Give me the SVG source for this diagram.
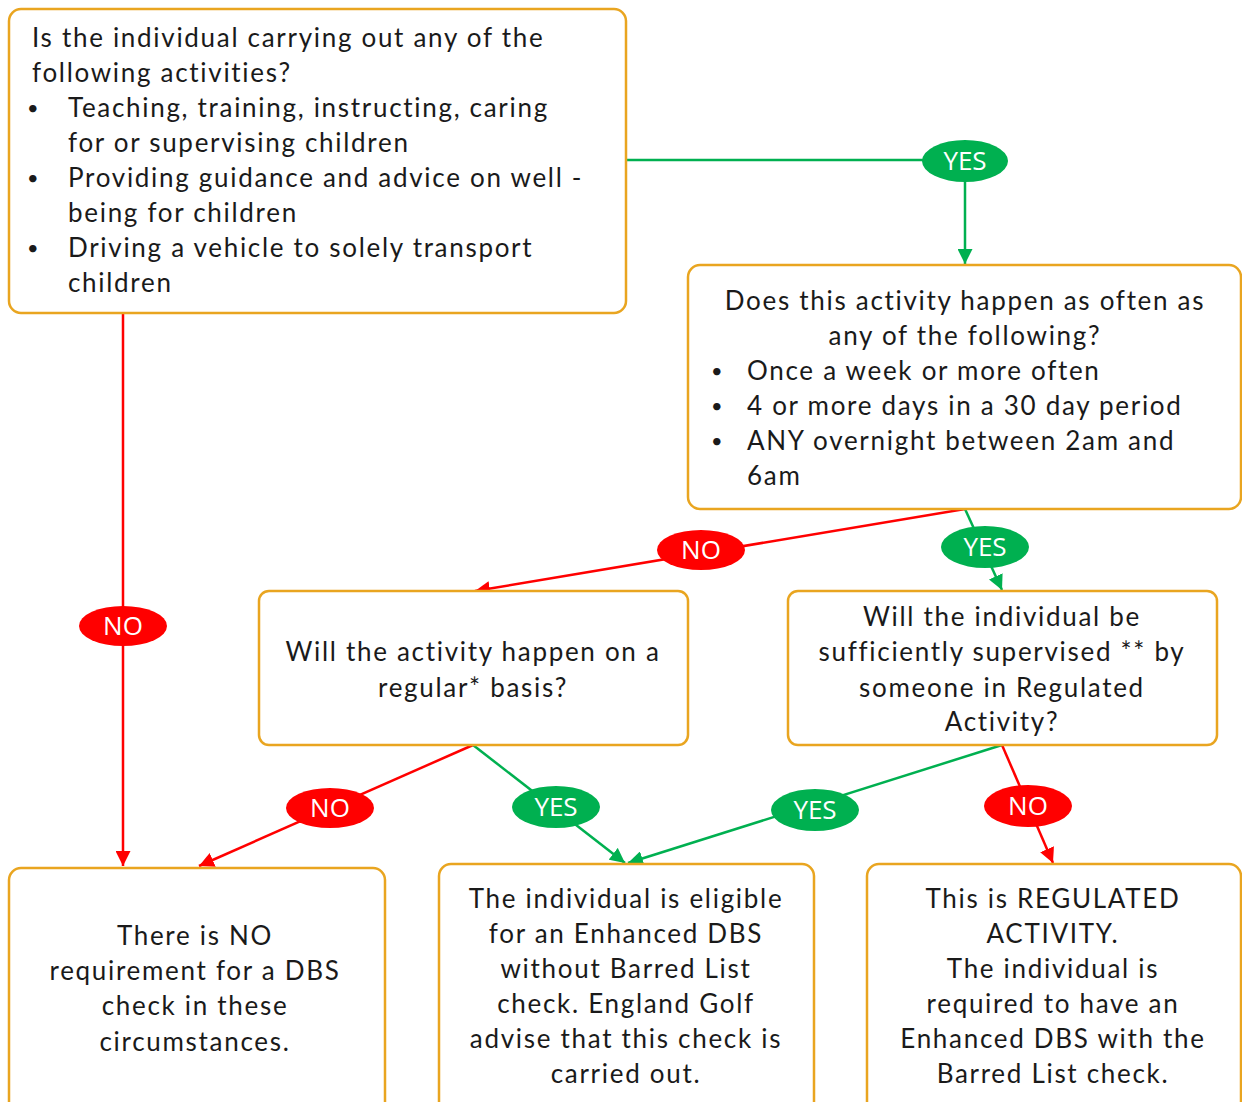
<svg xmlns="http://www.w3.org/2000/svg" width="1242" height="1102" viewBox="0 0 1242 1102">
<style>
.box{fill:#fff;stroke:#E9A520;stroke-width:2.5}
.t{font-family:Lato,"Open Sans",sans-serif;font-size:26px;fill:#1a1a1a;letter-spacing:1.7px}
.b{font-family:Lato,"Open Sans",sans-serif;font-size:20px;fill:#1a1a1a}
.c{text-anchor:middle}
.g{stroke:#00B050;stroke-width:2.5;fill:none}
.r{stroke:#FF0000;stroke-width:2.5;fill:none}
.lg{fill:#00B050}
.lr{fill:#FF0000}
.lt{font-family:"Open Sans","Liberation Sans",sans-serif;font-size:26px;fill:#fff;text-anchor:middle}
</style>
<defs>
<marker id="ag" viewBox="0 0 10 10" refX="10" refY="5" markerWidth="6" markerHeight="6" markerUnits="strokeWidth" orient="auto"><path d="M0,0L10,5L0,10z" fill="#00B050"/></marker>
<marker id="ar" viewBox="0 0 10 10" refX="10" refY="5" markerWidth="6" markerHeight="6" markerUnits="strokeWidth" orient="auto"><path d="M0,0L10,5L0,10z" fill="#FF0000"/></marker>
</defs>
<g id="connectors">
<path class="g" d="M626,160H965V264" marker-end="url(#ag)"/>
<path class="r" d="M123,313V866" marker-end="url(#ar)"/>
<path class="r" d="M965,509L475,591" marker-end="url(#ar)"/>
<path class="g" d="M965,509L1002,590" marker-end="url(#ag)"/>
<path class="r" d="M473,745L199,866" marker-end="url(#ar)"/>
<path class="g" d="M473,745L625,863" marker-end="url(#ag)"/>
<path class="g" d="M1002,745L628,863" marker-end="url(#ag)"/>
<path class="r" d="M1002,745L1053,863" marker-end="url(#ar)"/>
<g id="lbl-yes1"><ellipse class="lg" cx="965" cy="161" rx="43" ry="21"/><text class="lt" x="965" y="170">YES</text></g>
<g id="lbl-no1"><ellipse class="lr" cx="123" cy="626" rx="44" ry="20"/><text class="lt" x="123" y="635">NO</text></g>
<g id="lbl-no2"><ellipse class="lr" cx="701" cy="550" rx="44" ry="20"/><text class="lt" x="701" y="559">NO</text></g>
<g id="lbl-yes2"><ellipse class="lg" cx="985" cy="547" rx="44" ry="21"/><text class="lt" x="985" y="556">YES</text></g>
<g id="lbl-no3"><ellipse class="lr" cx="330" cy="808" rx="44" ry="20"/><text class="lt" x="330" y="817">NO</text></g>
<g id="lbl-yes3"><ellipse class="lg" cx="556" cy="807" rx="44" ry="21"/><text class="lt" x="556" y="816">YES</text></g>
<g id="lbl-yes4"><ellipse class="lg" cx="815" cy="810" rx="44" ry="21"/><text class="lt" x="815" y="819">YES</text></g>
<g id="lbl-no4"><ellipse class="lr" cx="1028" cy="806" rx="44" ry="21"/><text class="lt" x="1028" y="815">NO</text></g>
</g>
<g id="q1">
<rect class="box" x="9" y="9" width="617" height="304" rx="12"/>
<text class="t" x="32" y="47">Is the individual carrying out any of the</text>
<text class="t" x="32" y="82">following activities?</text>
<text class="b" x="27" y="115">•</text><text class="t" x="68" y="117">Teaching, training, instructing, caring</text>
<text class="t" x="68" y="152">for or supervising children</text>
<text class="b" x="27" y="185">•</text><text class="t" x="68" y="187">Providing guidance and advice on well  -</text>
<text class="t" x="68" y="222">being for children</text>
<text class="b" x="27" y="255">•</text><text class="t" x="68" y="257">Driving a vehicle to solely transport</text>
<text class="t" x="68" y="292">children</text>
</g>
<g id="q2">
<rect class="box" x="688" y="265" width="553" height="244" rx="12"/>
<text class="t c" x="965" y="310">Does this activity happen as often as</text>
<text class="t c" x="965" y="345">any of the following?</text>
<text class="b" x="711" y="378">•</text><text class="t" x="747" y="380">Once a week or more often</text>
<text class="b" x="711" y="413">•</text><text class="t" x="747" y="415">4 or more days in a 30 day period</text>
<text class="b" x="711" y="448">•</text><text class="t" x="747" y="450">ANY overnight between 2am and</text>
<text class="t" x="747" y="485">6am</text>
</g>
<g id="q3">
<rect class="box" x="259" y="591" width="429" height="154" rx="10"/>
<text class="t c" x="473" y="661">Will the activity happen on a</text>
<text class="t c" x="473" y="697">regular* basis?</text>
</g>
<g id="q4">
<rect class="box" x="788" y="591" width="429" height="154" rx="10"/>
<text class="t c" x="1002" y="626">Will the individual be</text>
<text class="t c" x="1002" y="661">sufficiently supervised ** by</text>
<text class="t c" x="1002" y="697">someone in Regulated</text>
<text class="t c" x="1002" y="731">Activity?</text>
</g>
<g id="r1">
<rect class="box" x="9" y="868" width="376" height="250" rx="12"/>
<text class="t c" x="195" y="945">There is NO</text>
<text class="t c" x="195" y="980">requirement for a DBS</text>
<text class="t c" x="195" y="1015">check in these</text>
<text class="t c" x="195" y="1051">circumstances.</text>
</g>
<g id="r2">
<rect class="box" x="439" y="864" width="375" height="254" rx="12"/>
<text class="t c" x="626" y="908">The individual is eligible</text>
<text class="t c" x="626" y="943">for an Enhanced DBS</text>
<text class="t c" x="626" y="978">without Barred List</text>
<text class="t c" x="626" y="1013">check. England Golf</text>
<text class="t c" x="626" y="1048">advise that this check is</text>
<text class="t c" x="626" y="1083">carried out.</text>
</g>
<g id="r3">
<rect class="box" x="867" y="864" width="374" height="254" rx="12"/>
<text class="t c" x="1053" y="908">This is REGULATED</text>
<text class="t c" x="1053" y="943">ACTIVITY.</text>
<text class="t c" x="1053" y="978">The individual is</text>
<text class="t c" x="1053" y="1013">required to have an</text>
<text class="t c" x="1053" y="1048">Enhanced DBS with the</text>
<text class="t c" x="1053" y="1083">Barred List check.</text>
</g>
</svg>
